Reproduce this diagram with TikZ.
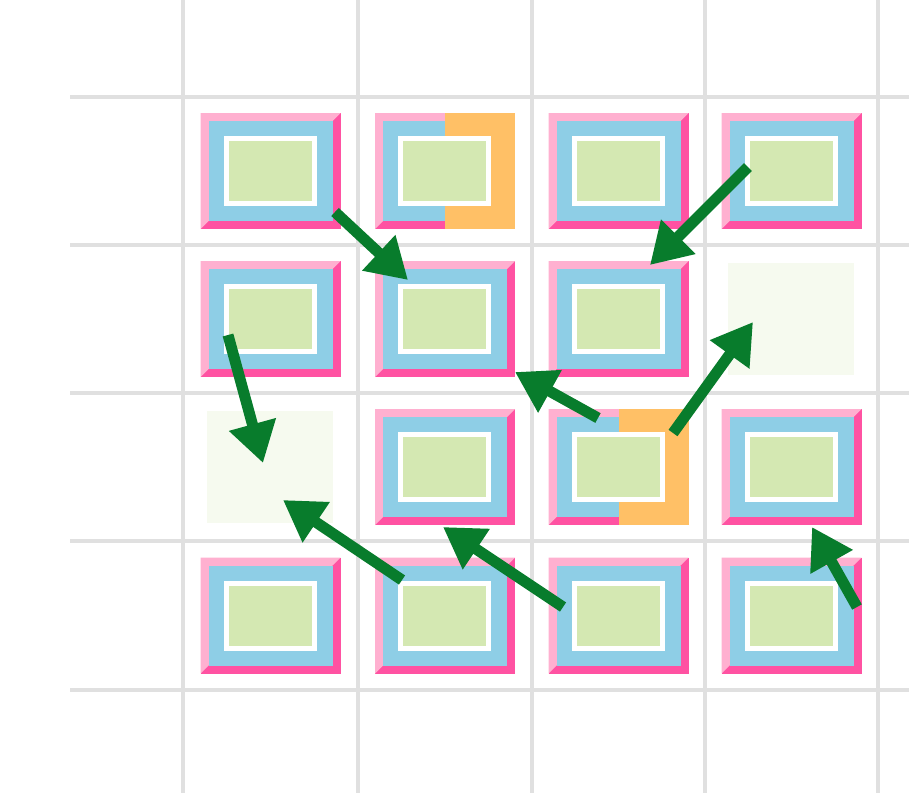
\documentclass[tikz,border=0pt]{standalone}
\usetikzlibrary{arrows.meta}

\definecolor{gridgray}{RGB}{224,224,224}
\definecolor{softpink}{RGB}{255,176,208}
\definecolor{hotpink}{RGB}{255,82,162}
\definecolor{skyband}{RGB}{142,206,230}
\definecolor{leafgreen}{RGB}{212,232,178}
\definecolor{ambr}{RGB}{255,192,102}
\definecolor{ghostgreen}{RGB}{246,250,239}
\definecolor{movegreen}{RGB}{8,124,44}

\begin{document}
\begin{tikzpicture}[
  x=0.01cm, y=-0.01cm,
  gridline/.style={draw=gridgray,line width=0.035cm},
  move/.style={draw=movegreen,line width=0.11cm,
    -{Triangle[length=0.40cm,width=0.46cm]}},
  tile/.pic={
    \fill[hotpink] (-70,-58) rectangle (70,58);
    \fill[softpink] (-70,58) -- (-70,-58) -- (70,-58) -- (62,-50) -- (-62,50) -- cycle;
    \fill[skyband] (-62,-50) rectangle (62,50);
    \fill[white] (-47,-35) rectangle (46,35);
    \fill[leafgreen] (-42,-30) rectangle (41,30);
  },
  halftile/.pic={
    \fill[hotpink] (-70,-58) rectangle (70,58);
    \fill[softpink] (-70,58) -- (-70,-58) -- (70,-58) -- (62,-50) -- (-62,50) -- cycle;
    \fill[skyband] (-62,-50) rectangle (62,50);
    \fill[ambr] (0,-58) rectangle (70,58);
    \fill[white] (-47,-35) rectangle (46,35);
    \fill[leafgreen] (-42,-30) rectangle (41,30);
  },
  emptycell/.pic={
    \fill[ghostgreen] (-64,-56) rectangle (62,56);
  }
]
  \fill[white] (0,0) rectangle (909,793);
  \useasboundingbox (0,0) rectangle (909,793);

  % grid
  \foreach \gx in {183,358,532,705,878}
    \draw[gridline] (\gx,0) -- (\gx,793);
  \foreach \gy in {97,245,393,541,690}
    \draw[gridline] (70,\gy) -- (909,\gy);

  % cell centres
  \foreach \r/\cy in {1/171,2/319,3/467,4/615.5}
    \foreach \c/\cx in {1/270.5,2/445,3/618.5,4/791.5}
      \coordinate (cell-\r-\c) at (\cx,\cy);

  % board
  \foreach \r/\kinds in {1/{tile,halftile,tile,tile},
                         2/{tile,tile,tile,emptycell},
                         3/{emptycell,tile,halftile,tile},
                         4/{tile,tile,tile,tile}}
    \foreach \kind [count=\c] in \kinds
      \pic at (cell-\r-\c) {\kind};

  % moves
  \draw[move] ([shift={(64.5,41)}]cell-1-1) -- ([shift={(-37,-39)}]cell-2-2);
  \draw[move] ([shift={(-43.5,-4)}]cell-1-4) -- ([shift={(31.5,-54)}]cell-2-3);
  \draw[move] ([shift={(-42.5,16)}]cell-2-1) -- ([shift={(-7.5,-4)}]cell-3-1);
  \draw[move] ([shift={(-20.5,-49)}]cell-3-3) -- ([shift={(70,53)}]cell-2-2);
  \draw[move] ([shift={(54.5,-34)}]cell-3-3) -- ([shift={(-38.5,3)}]cell-2-4);
  \draw[move] ([shift={(-43,-35.5)}]cell-4-2) -- ([shift={(12.5,33)}]cell-3-1);
  \draw[move] ([shift={(-55.5,-8.5)}]cell-4-3) -- ([shift={(-2,60)}]cell-3-2);
  \draw[move] ([shift={(65.5,-8.5)}]cell-4-4) -- ([shift={(20.5,60)}]cell-3-4);
\end{tikzpicture}
\end{document}
